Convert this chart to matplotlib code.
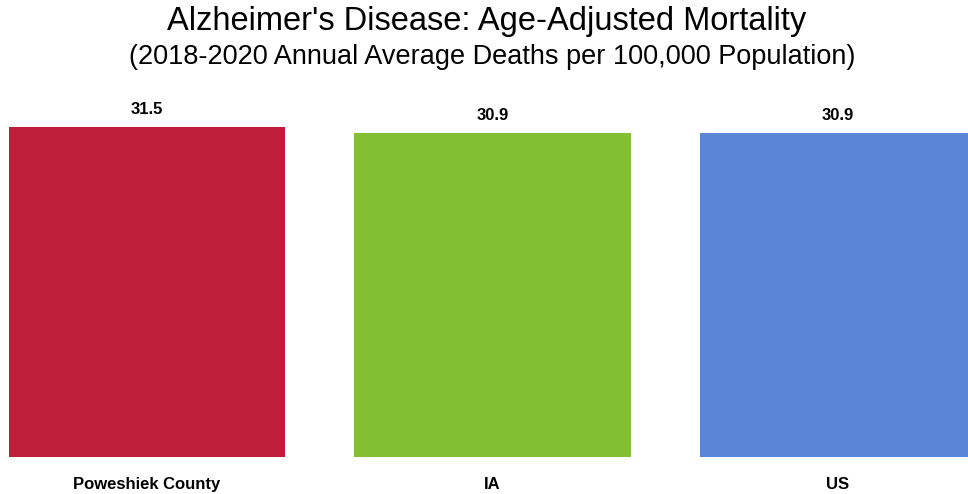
import matplotlib
matplotlib.use("Agg")
import matplotlib.pyplot as plt
from matplotlib import font_manager

categories = ["Poweshiek County", "IA", "US"]
values = [31.5, 30.9, 30.9]
labels = ["31.5", "30.9", "30.9"]
colors = ["#BE1E37", "#82BF33", "#5B85D6"]

names = {f.name for f in font_manager.fontManager.ttflist}
narrow = "Liberation Sans Narrow" if "Liberation Sans Narrow" in names else "Liberation Sans"

fig = plt.figure(figsize=(9.68, 4.94), dpi=100)
ax = fig.add_axes([8.8 / 968, 37 / 494, 967.4 / 968, 366.7 / 494])
x = list(range(len(categories)))
ax.bar(x, values, width=0.8, color=colors)
ax.set_xlim(-0.4, 2.4)
ax.set_ylim(0, 35)
for xi, v, lab in zip(x, values, labels):
    ax.annotate(lab, (xi, v), xytext=(0, 7.5), textcoords="offset points",
                ha="center", va="bottom", fontsize=12, fontweight="bold",
                family=[narrow, "DejaVu Sans"])
ax.set_xticks(x)
ax.set_xticklabels(categories, fontsize=12, fontweight="bold", family=[narrow, "DejaVu Sans"])
ax.tick_params(axis="x", length=0, pad=14.5)
ax.set_yticks([])
for s in ax.spines.values():
    s.set_visible(False)

fig.text(0.503, 0.957, "Alzheimer's Disease: Age-Adjusted Mortality", ha="center", va="center",
         fontsize=23.5, family=[narrow, "DejaVu Sans"])
fig.text(0.5085, 0.884, "(2018-2020 Annual Average Deaths per 100,000 Population)", ha="center", va="center",
         fontsize=19.5, family=[narrow, "DejaVu Sans"])

fig.savefig("out.png", dpi=100)
